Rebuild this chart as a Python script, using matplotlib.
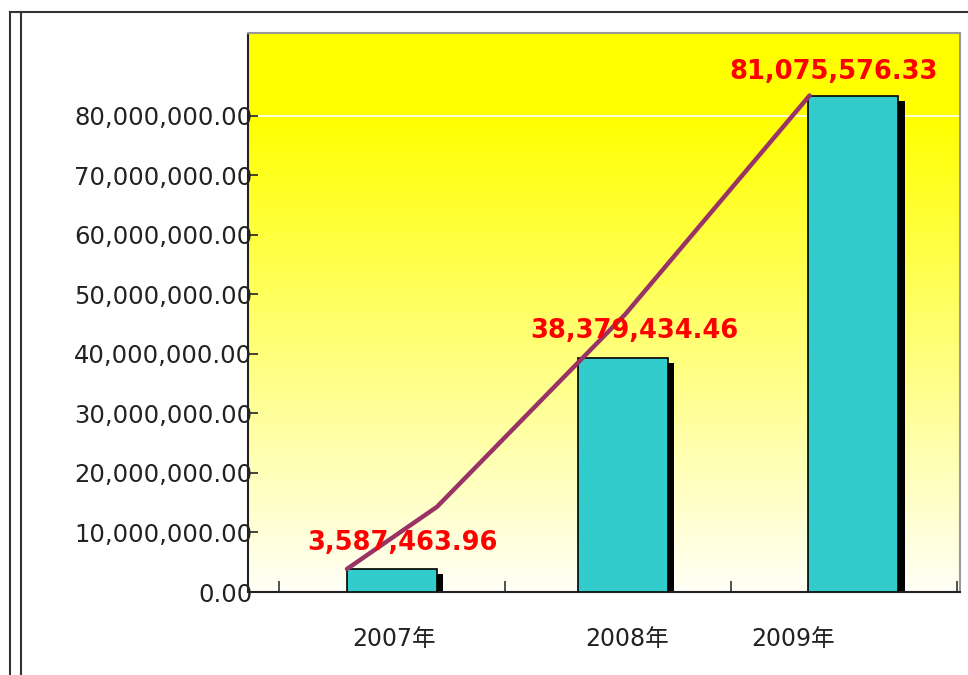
import numpy as np
import matplotlib
matplotlib.use("Agg")
import matplotlib.pyplot as plt
from matplotlib.lines import Line2D

plt.rcParams['font.family'] = ['DejaVu Sans', 'Noto Sans CJK SC']

# data
years = ["2007年", "2008年", "2009年"]
bar_heights = [3.87e6, 39.3e6, 83.3e6]          # bar tops as drawn
value_labels = ["3,587,463.96", "38,379,434.46", "81,075,576.33"]
line_x = [-0.195, 0.195, 1.01, 1.81]
line_y = [3.87e6, 14.3e6, 46.6e6, 83.4e6]
y_ticks = [0, 10e6, 20e6, 30e6, 40e6, 50e6, 60e6, 70e6, 80e6]

fig = plt.figure(figsize=(9.68, 6.75), dpi=100)
ax = fig.add_axes([248 / 968, 1 - 592 / 675, 712 / 968, 559 / 675])

x = np.arange(len(years))
ax.set_xlim(-0.624, 2.462)
ax.set_ylim(0, 93.9e6)

# yellow -> white gradient background
grad = np.clip((np.linspace(93.9e6, 0, 300) / 80e6), 0, 1)
rgb = np.ones((300, 1, 3))
rgb[:, 0, 2] = np.clip((1 - grad) * 0.97, 0, 1)
ax.imshow(rgb, extent=[-0.624, 2.462, 0, 93.9e6], aspect="auto", zorder=0)
ax.axhline(80e6, color="white", lw=1.2, zorder=1)

# shadows then bars
w = 0.39
ax.bar(x + 0.028, np.array(bar_heights) - 0.9e6, width=w, color="black", zorder=2)
ax.bar(x, bar_heights, width=w, color="#33CCCC", edgecolor="black", lw=1.2, zorder=3)

ax.plot(line_x, line_y, color="#993366", lw=3.2, solid_capstyle="round", zorder=4)

# value labels
offsets = [(11, 26), (12, 27), (-20, 24)]
for xi, h, lab, off in zip(x, bar_heights, value_labels, offsets):
    ax.annotate(lab, (xi, h), xytext=off, textcoords="offset pixels",
                ha="center", va="center", color="red", fontsize=18.5,
                fontweight="bold", zorder=5)

# axes styling
ax.set_yticks(y_ticks)
ax.set_yticklabels(["{:,.2f}".format(v) for v in y_ticks], fontsize=17.5, color="#222222")
ax.tick_params(axis="y", direction="in", length=7, width=1.2, pad=-3, colors="#222222")

ax.set_xticks([0.01, 1.02, 1.74])
ax.set_xticklabels(years, fontsize=17, color="#222222")
ax.tick_params(axis="x", length=0, pad=25)
ax.set_xticks([-0.49, 0.49, 1.47, 2.45], minor=True)
ax.tick_params(axis="x", which="minor", direction="in", length=8, width=1.2, color="#333333")

for s in ["left", "bottom"]:
    ax.spines[s].set_color("#222222")
    ax.spines[s].set_linewidth(1.5)
for s in ["top", "right"]:
    ax.spines[s].set_color("#999999")
    ax.spines[s].set_linewidth(1.5)

# outer frame
for xf in [10 / 968, 21 / 968]:
    fig.add_artist(Line2D([xf, xf], [0, 1 - 12 / 675], color="#333333", lw=1.5))
fig.add_artist(Line2D([10 / 968, 1], [1 - 12 / 675, 1 - 12 / 675], color="#333333", lw=1.5))

fig.savefig("out.png", dpi=100)
